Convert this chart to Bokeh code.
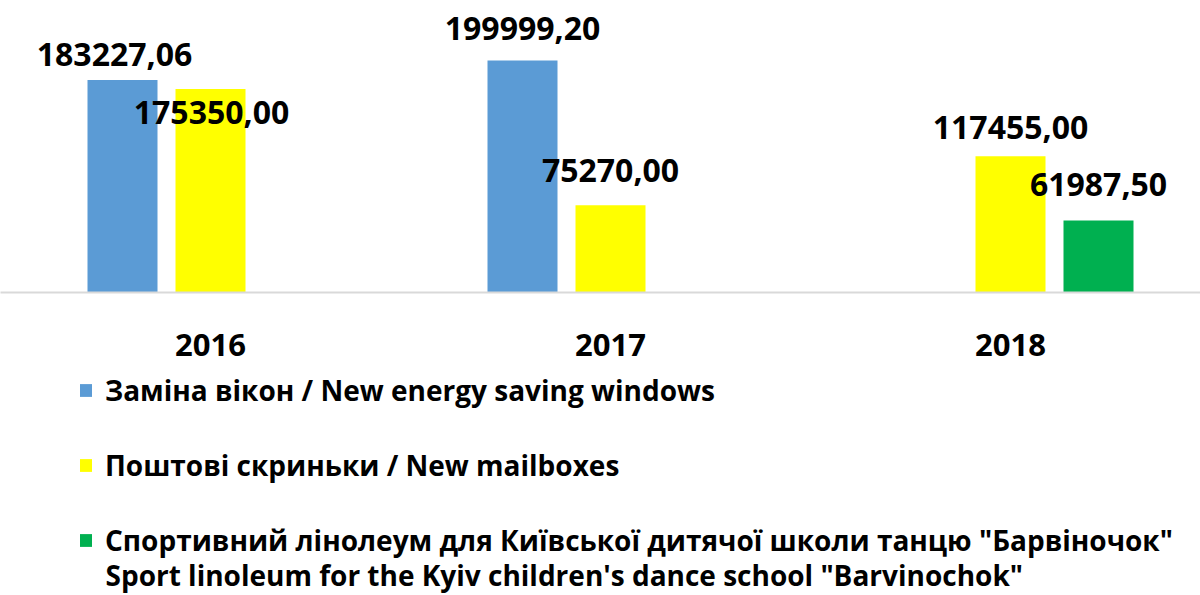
from bokeh.plotting import figure
from bokeh.models import Range1d, FixedTicker, Legend, LegendItem, ColumnDataSource, Label
from bokeh.layouts import column
from bokeh.embed import file_html
from bokeh.resources import INLINE
from bokeh.core.properties import value

years = ["2016", "2017", "2018"]
series_names = [
    "Заміна вікон / New energy saving windows",
    "Поштові скриньки / New mailboxes",
    "Спортивний лінолеум для Київської дитячої школи танцю \"Барвіночок\"",
]
series_name_line2 = "Sport linoleum for the Kyiv children's dance school \"Barvinochok\""
windows = [183227.06, 199999.20, 0]
mailboxes = [175350.00, 75270.00, 117455.00]
linoleum = [0, 0, 61987.50]
colors = ["#5B9BD5", "#FFFF00", "#00B050"]

series = [windows, mailboxes, linoleum]
offsets = [-0.22, 0.0, 0.22]
# label adjustments (pixels) per series per year
label_dx = [[-8, 0, 0], [1, 0, 0], [0, 0, 0]]
label_dy = [[-25, -32, 0], [23, -35, -29], [0, 0, -36]]

FONT = "Open Sans"

p = figure(frame_width=1200, frame_height=292, output_backend="svg", toolbar_location=None,
           x_range=Range1d(-0.025, 2.975), y_range=Range1d(0, 251724),
           min_border_left=0, min_border_right=0, min_border_top=0, min_border_bottom=72)
p.outline_line_color = None
p.xgrid.visible = False
p.ygrid.visible = False
p.yaxis.visible = False

for si, (vals, off, col) in enumerate(zip(series, offsets, colors)):
    xs = [i + 0.5 + off for i, v in enumerate(vals) if v]
    ys = [v for v in vals if v]
    src = ColumnDataSource(dict(x=xs, top=ys))
    p.vbar(x="x", top="top", width=0.175, bottom=0, source=src, fill_color=col, line_color=None)
    for i, v in enumerate(vals):
        if not v:
            continue
        p.text(x=[i + 0.5 + off], y=[v], text=[f"{v:.2f}".replace(".", ",")],
               x_offset=label_dx[si][i], y_offset=label_dy[si][i],
               text_align="center", text_baseline="middle",
               text_font=value(FONT), text_font_style="bold", text_font_size="32px",
               text_color="black")

ax = p.xaxis[0]
ax.ticker = FixedTicker(ticks=[0.5, 1.5, 2.5])
ax.major_label_overrides = {0.5: years[0], 1.5: years[1], 2.5: years[2]}
ax.axis_line_color = "#D9D9D9"
ax.axis_line_width = 2
ax.major_tick_line_color = None
ax.minor_tick_line_color = None
ax.major_label_text_font = FONT
ax.major_label_text_font_style = "bold"
ax.major_label_text_font_size = "31px"
ax.major_label_text_color = "black"
ax.major_label_standoff = 35

# legend figure
p2 = figure(width=1200, height=231, output_backend="svg", toolbar_location=None,
            x_axis_location=None, y_axis_location=None,
            x_range=Range1d(0, 1), y_range=Range1d(0, 1),
            min_border_left=0, min_border_right=0, min_border_top=0, min_border_bottom=0)
p2.outline_line_color = None
p2.xgrid.visible = False
p2.ygrid.visible = False
items = []
for col, name in zip(colors, series_names):
    r = p2.vbar(x=[0.5], top=[1], width=0.1, fill_color=col, line_color=None, visible=False)
    items.append(LegendItem(label=name, renderers=[r]))
legend = Legend(items=items, location=(78, 36), orientation="vertical",
                label_text_font=FONT, label_text_font_style="bold", label_text_font_size="28px",
                label_text_color="black", glyph_width=15, glyph_height=16, label_standoff=12,
                spacing=37, padding=0, margin=0, border_line_color=None,
                background_fill_alpha=0)
p2.add_layout(legend)
p2.add_layout(Label(x=105, y=21, x_units="screen", y_units="screen", text=series_name_line2,
                    text_font=FONT, text_font_style="bold", text_font_size="28px",
                    text_color="black", text_baseline="middle"))

open("out.html", "w").write(file_html(column(p, p2, spacing=0), INLINE))
